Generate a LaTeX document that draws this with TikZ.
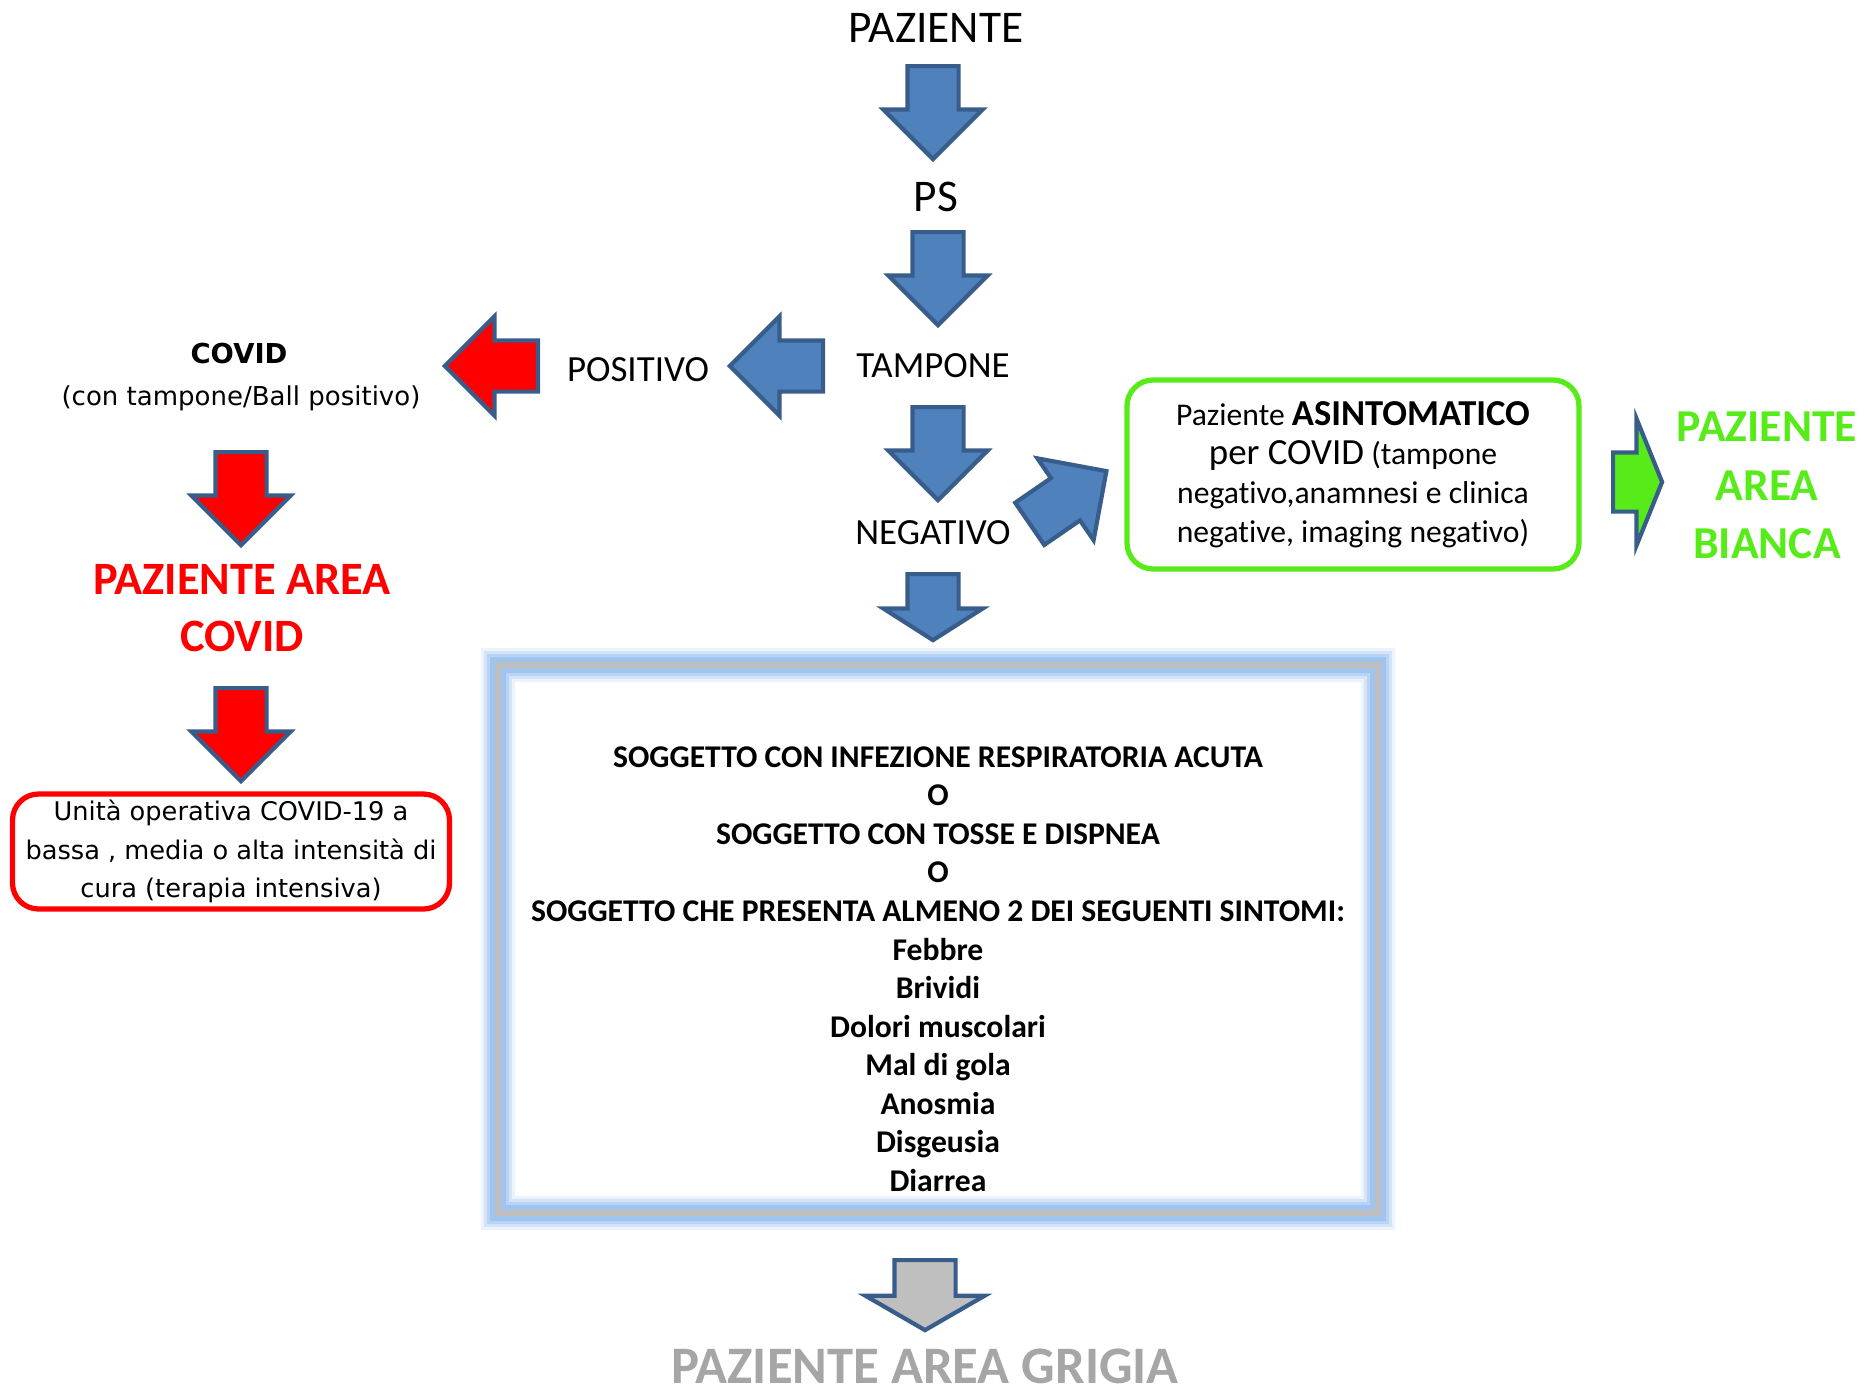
\documentclass[tikz,border=0pt]{standalone}
\usepackage{fontspec}
\setmainfont{Carlito}[Ligatures={NoCommon}]
\newfontfamily\verdfont{DejaVu Sans}
\usetikzlibrary{shapes.arrows}

\definecolor{arrowfill}{RGB}{79,129,189}
\definecolor{arrowline}{RGB}{56,93,138}
\definecolor{covidred}{RGB}{255,0,0}
\definecolor{biancagreen}{RGB}{88,235,26}
\definecolor{grigiatext}{RGB}{166,166,166}
\definecolor{grigiafill}{RGB}{191,191,191}
\definecolor{glowblue}{RGB}{160,196,240}
\definecolor{framegrey}{RGB}{190,190,190}

\begin{document}
\begin{tikzpicture}
[
	blockarrow/.style={single arrow,draw=arrowline,fill=arrowfill,line width=1.2pt,inner xsep=0pt,inner ysep=0.235cm,single arrow head extend=0.24cm,single arrow tip angle=90,minimum height=0.93cm,anchor=tail},
	redarrow/.style={blockarrow,fill=covidred},
	flowtext/.style={inner sep=0pt,font=\fontsize{10.5}{12}\selectfont},
	bigflowtext/.style={inner sep=0pt,font=\fontsize{12.9}{15}\selectfont},
	areatext/.style={inner sep=0pt,align=center,font=\bfseries\fontsize{13.2}{16.2}\selectfont},
	roundbox/.style={draw,rounded corners=0.26cm,line width=1.5pt,align=center,inner sep=0pt},
	framebox/.style={draw=framegrey,line width=0.06cm,minimum width=8.80cm,minimum height=5.48cm,
		preaction={draw=glowblue!20,line width=0.34cm},
		preaction={draw=glowblue!45,line width=0.28cm},
		preaction={draw=glowblue!75,line width=0.22cm},
		preaction={draw=glowblue,line width=0.16cm}},
	scale=1
]

	\useasboundingbox (0,0) rectangle (18.70,-13.93);

	\node[bigflowtext] at (9.36,-0.28) (paziente) {PAZIENTE};
	\node[blockarrow,rotate=-90] at (9.33,-0.64) (a1) {};
	\node[bigflowtext] at (9.36,-1.965) (ps) {PS};
	\node[blockarrow,rotate=-90] at (9.38,-2.30) (a2) {};
	\node[flowtext] at (9.33,-3.66) (tampone) {TAMPONE};

	\node[blockarrow,rotate=180] at (8.25,-3.66) (a3) {};
	\node[flowtext] at (6.38,-3.70) (positivo) {POSITIVO};
	\node[redarrow,rotate=180] at (5.40,-3.66) (a4) {};

	\node[inner sep=0pt,font=\verdfont\bfseries\fontsize{7.8}{9}\selectfont] at (2.39,-3.54) (covid) {COVID};
	\node[inner sep=0pt,font=\verdfont\fontsize{7.4}{9}\selectfont] at (2.41,-3.98) (covidsub) {(con tampone/Ball positivo)};
	\node[redarrow,rotate=-90] at (2.41,-4.50) (a5) {};
	\node[areatext,text=covidred] at (2.42,-6.085) (areacovid) {PAZIENTE AREA\\COVID};
	\node[redarrow,rotate=-90] at (2.41,-6.86) (a6) {};
	\node[roundbox,draw=covidred,minimum width=4.37cm,minimum height=1.15cm,font=\verdfont\fontsize{7.3}{10.95}\selectfont] at (2.31,-8.515) (unita) {Unità operativa COVID-19 a\\bassa , media o alta intensità di\\cura (terapia intensiva)};

	\node[blockarrow,rotate=-90] at (9.38,-4.05) (a7) {};
	\node[flowtext] at (9.33,-5.33) (negativo) {NEGATIVO};
	\node[blockarrow,rotate=34.5] at (10.28,-5.25) (a8) {};
	\node[roundbox,draw=biancagreen,minimum width=4.52cm,minimum height=1.89cm,font=\fontsize{9}{11.1}\selectfont] at (13.53,-4.745) (asintomatico) {Paziente {\bfseries\fontsize{10.4}{12}\selectfont ASINTOMATICO}\\{\fontsize{10.5}{12}\selectfont per COVID} (tampone\\negativo,anamnesi e clinica\\negative, imaging negativo)};
	\node[blockarrow,fill=biancagreen,inner ysep=0.275cm,single arrow head extend=0.34cm,single arrow tip angle=136,minimum height=0.49cm] at (16.11,-4.82) (a9) {};
	\node[areatext,text=biancagreen,font=\bfseries\fontsize{13}{16.6}\selectfont] at (17.67,-4.855) (areabianca) {PAZIENTE\\AREA\\BIANCA};

	\node[blockarrow,rotate=-90,minimum height=0.66cm,single arrow tip angle=115,single arrow head extend=0.24cm] at (9.33,-5.72) (a10) {};
	\node[framebox] at (9.38,-9.39) (sintomi) {};
	\node[inner sep=0pt,align=center,font=\bfseries\fontsize{9}{10.96}\selectfont] at (9.38,-9.69) (sintomitext) {SOGGETTO CON INFEZIONE RESPIRATORIA ACUTA\\O\\SOGGETTO CON TOSSE E DISPNEA\\O\\SOGGETTO CHE PRESENTA ALMENO 2 DEI SEGUENTI SINTOMI:\\Febbre\\Brividi\\Dolori muscolari\\Mal di gola\\Anosmia\\Disgeusia\\Diarrea};

	\node[blockarrow,rotate=-90,fill=grigiafill,inner ysep=0.285cm,single arrow head extend=0.29cm,single arrow tip angle=120,minimum height=0.70cm] at (9.25,-12.58) (a11) {};
	\node[inner sep=0pt,text=grigiatext,font=\bfseries\fontsize{15}{18}\selectfont] at (9.25,-13.66) (areagrigia) {PAZIENTE AREA GRIGIA};

\end{tikzpicture}
\end{document}
